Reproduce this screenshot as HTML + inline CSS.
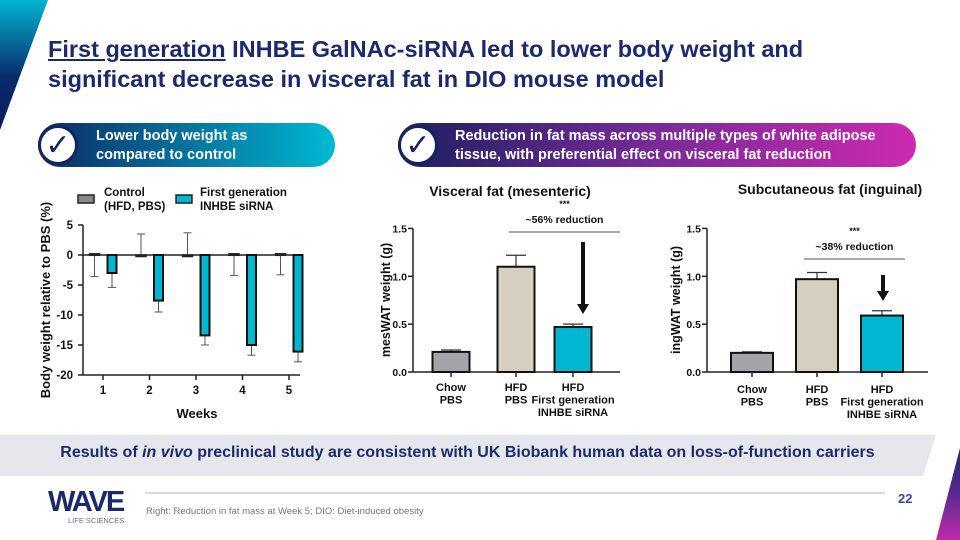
<!DOCTYPE html>
<html><head><meta charset="utf-8">
<style>
body{margin:0;width:960px;height:540px;overflow:hidden;background:#fff;font-family:"Liberation Sans",Arial,sans-serif;position:relative}
.abs{position:absolute}
.title{left:48px;top:34px;font-size:23.5px;font-weight:bold;color:#1b2a6b;line-height:30px}
.pill{height:44px;border-radius:22px;color:#fff;font-weight:bold;font-size:14.5px;line-height:19px}
.chk{width:40px;height:40px;border-radius:50%;background:#fff;border:3px solid #14245e;box-sizing:border-box;text-align:center;font-size:30px;line-height:36px;color:#14245e}
</style></head><body>
<svg class="abs" style="left:0;top:0" width="960" height="540">
<defs>
<linearGradient id="g1" x1="0" y1="0" x2="0" y2="1"><stop offset="0" stop-color="#00b5d1"/><stop offset="0.6" stop-color="#0a2a6b"/><stop offset="1" stop-color="#0a1d5e"/></linearGradient>
<linearGradient id="g2" x1="0" y1="0" x2="0" y2="1"><stop offset="0" stop-color="#1b2a6b"/><stop offset="0.5" stop-color="#5a2a90"/><stop offset="1" stop-color="#c02aaa"/></linearGradient>
</defs>
<polygon points="0,0 48,0 0,130" fill="url(#g1)"/>
<polygon points="960,448 960,540 936,540" fill="url(#g2)"/>
<polygon points="0,435 936,435 923,476 0,476" fill="#e6e7ec"/>
<line x1="145" y1="493" x2="885" y2="493" stroke="#b0b4c0" stroke-width="1"/>
</svg>
<div class="abs title"><span style="text-decoration:underline">First generation</span> INHBE GalNAc-siRNA led to lower body weight and<br>significant decrease in visceral fat in DIO mouse model</div>

<div class="abs pill" style="left:38px;top:123px;width:297px;background:linear-gradient(90deg,#0d2a66,#00b9d3)">
<div style="position:absolute;left:58px;top:4px">Lower body weight as<br>compared to control</div></div>
<div class="abs chk" style="left:38px;top:125px">✓</div>
<div class="abs pill" style="left:398px;top:123px;width:518px;background:linear-gradient(90deg,#1b2060,#7a2a98 50%,#cc2ab0)">
<div style="position:absolute;left:57px;top:4px">Reduction in fat mass across multiple types of white adipose<br>tissue, with preferential effect on visceral fat reduction</div></div>
<div class="abs chk" style="left:398px;top:125px">✓</div>

<svg id="ch" class="abs" style="left:0;top:0" width="960" height="540" font-family="Liberation Sans,Arial,sans-serif" font-weight="bold"></svg>

<div class="abs" style="left:0;width:935px;top:444px;text-align:center;font-size:16px;font-weight:bold;color:#1b2a6b">Results of <i>in vivo</i> preclinical study are consistent with UK Biobank human data on loss-of-function carriers</div>
<div class="abs" style="left:48px;top:486px;font-size:29px;font-weight:900;color:#1b2a6b;letter-spacing:-2px">WAVE</div>
<div class="abs" style="left:68px;top:516px;font-size:7.5px;color:#6a6f86">LIFE SCIENCES</div>
<div class="abs" style="left:146px;top:506px;font-size:9.5px;color:#777">Right: Reduction in fat mass at Week 5; DIO: Diet-induced obesity</div>
<div class="abs" style="left:898px;top:491px;font-size:13px;font-weight:bold;color:#3a4a9e">22</div>

<script>
const weeks=[1,2,3,4,5];
const ctrlVals=[0.2,0,0,0.2,0.2];
const ctrlErr=[-3.8,3.5,3.7,-3.6,-3.5];
const trtVals=[-3,-7.6,-13.4,-15,-16.1];
const trtErr=[2.4,1.9,1.6,1.7,1.7];
const bwTicks=[5,0,-5,-10,-15,-20];
const fatGroups=[["Chow","PBS"],["HFD","PBS"],["HFD","First generation","INHBE siRNA"]];
const visVals=[0.21,1.1,0.47];
const visErr=[0.02,0.12,0.03];
const subVals=[0.2,0.97,0.59];
const subErr=[0.01,0.07,0.05];
const fatTicks=[0,0.5,1.0,1.5];
const colors=["#a3a4aa","#d5cfc0","#00b7d1"];

const svg=document.getElementById('ch');
const NS='http://www.w3.org/2000/svg';
function el(t,a,p){const e=document.createElementNS(NS,t);for(const k in a)e.setAttribute(k,a[k]);(p||svg).appendChild(e);return e;}
function txt(x,y,s,a){const e=el('text',Object.assign({x:x,y:y,'font-size':11.5,fill:'#111','text-anchor':'middle'},a||{}));e.textContent=s;return e;}

// Left chart
const by=v=>255-v*6, wx=w=>103+(w-1)*46.5;
let g=el('g',{});


el('line',{x1:83,y1:by(5),x2:83,y2:by(-20),stroke:'#222','stroke-width':1.5},g);
el('line',{x1:83,y1:by(-20),x2:300,y2:by(-20),stroke:'#222','stroke-width':1.5},g);
el('line',{x1:83,y1:by(0),x2:300,y2:by(0),stroke:'#222','stroke-width':1.5},g);
bwTicks.forEach(t=>{el('line',{x1:78,y1:by(t),x2:83,y2:by(t),stroke:'#222','stroke-width':1.5},g);txt(73,by(t)+4,String(t),{'text-anchor':'end'});});
weeks.forEach((w,i)=>{
 const x=wx(w);
 el('line',{x1:x,y1:by(-20),x2:x,y2:by(-20)+5,stroke:'#222','stroke-width':1.5},g);
 txt(x,by(-20)+19,String(w));
 const cx=x-8.5;
 const ce=ctrlVals[i]+ctrlErr[i];
 el('line',{x1:cx,y1:by(ctrlVals[i]),x2:cx,y2:by(ce),stroke:'#555','stroke-width':1},g);
 el('line',{x1:cx-4,y1:by(ce),x2:cx+4,y2:by(ce),stroke:'#555','stroke-width':1},g);
 const cb=el('rect',{x:cx-5,y:by(ctrlVals[i]),width:10,height:Math.max(1.5,by(0)-by(ctrlVals[i])),fill:'#888',stroke:'#222','stroke-width':1.5},g);
 
 
 const tx=x+9;
 const te=trtVals[i]-trtErr[i];
 el('line',{x1:tx,y1:by(trtVals[i]),x2:tx,y2:by(te),stroke:'#555','stroke-width':1},g);
 el('line',{x1:tx-4,y1:by(te),x2:tx+4,y2:by(te),stroke:'#555','stroke-width':1},g);
 const tb=el('rect',{x:tx-4.5,y:by(0),width:9,height:by(trtVals[i])-by(0),fill:'#00b7d1',stroke:'#111','stroke-width':2},g);
 
 
});
txt(197,418,'Weeks',{'font-size':13});
txt(0,0,'Body weight relative to PBS (%)',{'font-size':13,transform:'translate(50,300) rotate(-90)'});
el('rect',{x:78,y:195,width:16,height:8,fill:'#888',stroke:'#222','stroke-width':1.5});
txt(104,196,'Control',{'text-anchor':'start'});txt(104,210,'(HFD, PBS)',{'text-anchor':'start'});
el('rect',{x:176,y:195,width:16,height:8,fill:'#00b7d1',stroke:'#222','stroke-width':1.5});
txt(200,196,'First generation',{'text-anchor':'start'});txt(200,210,'INHBE siRNA',{'text-anchor':'start'});

function fatChart(o){
 const ax=o.ax, centers=o.centers, vals=o.vals, errs=o.errs;
 const fy=v=>372-v*95.7;
 const gg=el('g',{});
 
 
 el('line',{x1:ax,y1:fy(1.5),x2:ax,y2:fy(0),stroke:'#222','stroke-width':1.5},gg);
 el('line',{x1:ax,y1:fy(0),x2:o.xEnd,y2:fy(0),stroke:'#222','stroke-width':1.5},gg);
 fatTicks.forEach(t=>{el('line',{x1:ax-5,y1:fy(t),x2:ax,y2:fy(t),stroke:'#222','stroke-width':1.5},gg);txt(ax-6,fy(t)+4,t.toFixed(1),{'text-anchor':'end','font-size':10.5});});
 centers.forEach((c,i)=>{
  const e=vals[i]+errs[i];
  el('line',{x1:c,y1:fy(vals[i]),x2:c,y2:fy(e),stroke:'#333','stroke-width':1.2},gg);
  el('line',{x1:c-10,y1:fy(e),x2:c+10,y2:fy(e),stroke:'#333','stroke-width':1.2},gg);
  const r=el('rect',{x:c-o.bw/2,y:fy(vals[i]),width:o.bw,height:fy(0)-fy(vals[i]),fill:colors[i],stroke:'#111','stroke-width':2},gg);
  
  
  el('line',{x1:c,y1:fy(0),x2:c,y2:fy(0)+5,stroke:'#222','stroke-width':1.5},gg);
  fatGroups[i].forEach((s,j)=>txt(c,o.labY+j*12.5,s,{'font-size':11}));
 });
 txt(o.titleX,o.titleY,o.title,{'font-size':14});
 txt(0,0,o.ylab,{'font-size':12.5,transform:`translate(${o.ylx},300) rotate(-90)`});
 el('line',{x1:o.sig[0],y1:o.sig[2],x2:o.sig[1],y2:o.sig[2],stroke:'#555','stroke-width':1},gg);
 const mx=(o.sig[0]+o.sig[1])/2;
 txt(mx,o.sig[2]-25,'***',{'font-size':9});
 txt(mx,o.sig[2]-9,o.pct,{'font-size':10.5});
 const axx=o.arrow[2];
 el('line',{x1:axx,y1:o.arrow[0],x2:axx,y2:o.arrow[1]-8,stroke:'#111','stroke-width':4},gg);
 el('polygon',{points:`${axx-6},${o.arrow[1]-10} ${axx+6},${o.arrow[1]-10} ${axx},${o.arrow[1]}`,fill:'#111'},gg);
}
fatChart({name:'visceral-fat-chart',ax:413,xEnd:620,centers:[451,516,573],bw:37,vals:visVals,errs:visErr,labY:391,
 title:'Visceral fat (mesenteric)',titleX:510,titleY:196,ylab:'mesWAT weight (g)',ylx:390,sig:[509,620,232],pct:'~56% reduction',arrow:[242,314,583]});
fatChart({name:'subcutaneous-fat-chart',ax:707,xEnd:928,centers:[752,817,882],bw:42,vals:subVals,errs:subErr,labY:393,
 title:'Subcutaneous fat (inguinal)',titleX:830,titleY:194,ylab:'ingWAT weight (g)',ylx:680,sig:[804,905,259],pct:'~38% reduction',arrow:[275,301,883]});
</script>
</body></html>
